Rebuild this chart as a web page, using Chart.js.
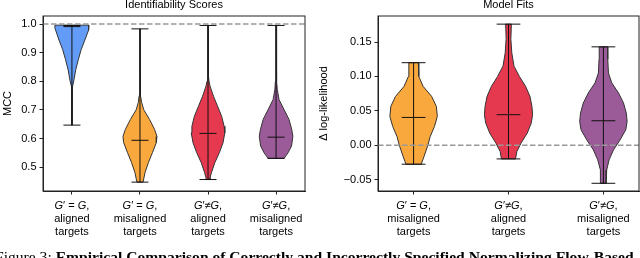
<!DOCTYPE html>
<html>
<head>
<meta charset="utf-8">
<script src="https://cdn.jsdelivr.net/npm/chart.js@4.4.0/dist/chart.umd.min.js"></script>
<style>
    html, body { margin: 0; padding: 0; background: #fff; width: 640px; height: 258px; overflow: hidden; }
    #idChart { position: absolute; left: 0; top: 0; width: 316px; height: 258px; }
    #fitChart { position: absolute; left: 316px; top: 0; width: 324px; height: 258px; }
    #caption {
        position: absolute; left: -5px; top: 249px;
        font-family: "Liberation Serif", "Times New Roman", serif;
        font-size: 15.6px; line-height: 15.6px; white-space: nowrap; color: #000;
    }
</style>
</head>
<body>
<canvas id="idChart" width="316" height="258"></canvas>
<canvas id="fitChart" width="324" height="258"></canvas>
<div id="caption">Figure 3: <b>Empirical Comparison of Correctly and Incorrectly Specified Normalizing Flow-Based</b></div>
<script>
// ---- Identifiability Scores (left panel) ----
const idTitle = 'Identifiability Scores';
const idAxisTitle = 'MCC';
const idPositions = [1, 2, 3, 4];
const idLabels = [
    ['G′ = G,', 'aligned', 'targets'],
    ['G′ = G,', 'misaligned', 'targets'],
    ['G′≠G,', 'aligned', 'targets'],
    ['G′≠G,', 'misaligned', 'targets']
];
const idMin = [0.647, 0.448, 0.457, 0.531];
const idMax = [0.995, 0.983, 0.995, 0.995];
const idMedian = [0.991, 0.594, 0.618, 0.605];
// violin outlines: [value, half width]
const idBlue = [[0.996, 0.25], [0.985, 0.25], [0.979, 0.24], [0.944, 0.19], [0.91, 0.135], [0.875, 0.093],
    [0.84, 0.056], [0.805, 0.03], [0.78, 0.008], [0.76, 0.004], [0.70, 0.003], [0.647, 0.003]];
const idOrange = [[0.983, 0.003], [0.90, 0.004], [0.80, 0.006], [0.75, 0.012], [0.726, 0.025], [0.701, 0.055],
    [0.667, 0.14], [0.632, 0.215], [0.607, 0.25], [0.586, 0.24], [0.552, 0.185], [0.517, 0.125],
    [0.482, 0.075], [0.448, 0.045]];
const idRed = [[0.995, 0.003], [0.90, 0.004], [0.82, 0.008], [0.80, 0.015], [0.783, 0.03], [0.748, 0.08],
    [0.713, 0.14], [0.678, 0.2], [0.643, 0.237], [0.62, 0.247], [0.585, 0.22], [0.551, 0.167],
    [0.516, 0.1], [0.481, 0.05], [0.463, 0.03], [0.457, 0.03]];
const idPurple = [[0.995, 0.003], [0.90, 0.005], [0.80, 0.01], [0.771, 0.018], [0.736, 0.044], [0.701, 0.118],
    [0.667, 0.19], [0.632, 0.23], [0.608, 0.247], [0.574, 0.227], [0.551, 0.178], [0.531, 0.118]];
const idTicks = [0.5, 0.6, 0.7, 0.8, 0.9, 1.0];
const idYRange = [0.417, 1.028];
const idXRange = [0.575, 4.425];
const idReference = 1.0;

// ---- Model Fits (right panel) ----
const fitTitle = 'Model Fits';
const fitAxisTitle = 'Δ log-likelihood';
const fitPositions = [1, 2, 3];
const fitLabels = [
    ['G′ = G,', 'misaligned', 'targets'],
    ['G′≠G,', 'aligned', 'targets'],
    ['G′≠G,', 'misaligned', 'targets']
];
const fitMin = [-0.0274, -0.0197, -0.0551];
const fitMax = [0.120, 0.176, 0.143];
const fitMedian = [0.0405, 0.0445, 0.0357];
const fitOrange = [[0.120, 0.05], [0.100, 0.055], [0.0857, 0.1], [0.0711, 0.19], [0.0566, 0.24], [0.042, 0.25],
    [0.0274, 0.22], [0.0128, 0.175], [0.0, 0.15], [-0.0163, 0.11], [-0.0274, 0.08]];
const fitRed = [[0.176, 0.03], [0.154, 0.025], [0.134, 0.035], [0.115, 0.058], [0.100, 0.115], [0.0857, 0.18],
    [0.0711, 0.226], [0.0566, 0.247], [0.0445, 0.254], [0.0324, 0.24], [0.0178, 0.198], [0.0032, 0.132],
    [-0.009, 0.088], [-0.0197, 0.074]];
const fitPurple = [[0.143, 0.044], [0.125, 0.046], [0.105, 0.053], [0.0907, 0.088], [0.0761, 0.159], [0.0615, 0.212],
    [0.0469, 0.241], [0.0347, 0.25], [0.0226, 0.236], [0.008, 0.176], [-0.0066, 0.106], [-0.0211, 0.06],
    [-0.0357, 0.035], [-0.0503, 0.028], [-0.0551, 0.028]];
const fitTicks = [-0.05, 0.0, 0.05, 0.10, 0.15];
const fitYRange = [-0.0663, 0.1878];
const fitXRange = [0.625, 3.375];
const fitReference = 0.0;

const BLUE = '#639cf6', ORANGE = '#f8a83c', RED = '#e5394f', PURPLE = '#9b5a98';
const FONT = '"Liberation Sans", Arial, sans-serif';
const AXIS = '#222';

// right side top->bottom, then left side bottom->top, closed
function violinOutline(center, profile) {
    const right = profile.map(p => ({ x: center + p[1], y: p[0] }));
    const left = profile.slice().reverse().map(p => ({ x: center - p[1], y: p[0] }));
    return right.concat(left, [right[0]]);
}

function buildDatasets(positions, mins, maxs, medians, violins, colors, xRange, refY) {
    const sets = [];
    const capHalf = 0.125;
    positions.forEach((pos, i) => {
        sets.push({
            data: violinOutline(pos, violins[i]),
            showLine: true, fill: 'shape', tension: 0,
            backgroundColor: colors[i], borderColor: '#333', borderWidth: 1,
            pointRadius: 0, order: 3
        });
        const segs = [
            [{ x: pos, y: mins[i] }, { x: pos, y: maxs[i] }],
            [{ x: pos - capHalf, y: mins[i] }, { x: pos + capHalf, y: mins[i] }],
            [{ x: pos - capHalf, y: maxs[i] }, { x: pos + capHalf, y: maxs[i] }],
            [{ x: pos - capHalf, y: medians[i] }, { x: pos + capHalf, y: medians[i] }]
        ];
        segs.forEach(d => sets.push({
            data: d, showLine: true, fill: false,
            borderColor: '#111', borderWidth: 1, pointRadius: 0, order: 2
        }));
    });
    // dashed reference line
    sets.push({
        data: [{ x: xRange[0], y: refY }, { x: xRange[1], y: refY }],
        showLine: true, fill: false, borderColor: '#999', borderWidth: 1.5,
        borderDash: [5.5, 2.5], pointRadius: 0, order: 1
    });
    return sets;
}

// frame, title and multi-line x labels (G in italics)
const panelDecor = {
    id: 'panelDecor',
    afterDraw(chart, args, opts) {
        const { ctx, chartArea: a, scales } = chart;
        ctx.save();
        ctx.strokeStyle = AXIS;
        ctx.lineWidth = 1;
        ctx.strokeRect(a.left, a.top, a.right - a.left, a.bottom - a.top);

        ctx.fillStyle = '#000';
        ctx.font = '11px ' + FONT;
        ctx.textAlign = 'center';
        ctx.textBaseline = 'alphabetic';
        ctx.fillText(opts.title, (a.left + a.right) / 2, 8);

        ctx.textBaseline = 'middle';
        opts.positions.forEach((pos, i) => {
            const x = scales.x.getPixelForValue(pos);
            const lines = opts.labels[i];
            // first line: math, italic G
            const parts = lines[0].split(/(G)/).filter(s => s.length);
            const fonts = parts.map(s => (s === 'G' ? 'italic 11px ' : '11px ') + FONT);
            let total = 0;
            parts.forEach((s, k) => { ctx.font = fonts[k]; total += ctx.measureText(s).width; });
            let cx = x - total / 2;
            ctx.textAlign = 'left';
            parts.forEach((s, k) => {
                ctx.font = fonts[k];
                ctx.fillText(s, cx, a.bottom + 15);
                cx += ctx.measureText(s).width;
            });
            ctx.textAlign = 'center';
            ctx.font = '11px ' + FONT;
            ctx.fillText(lines[1], x, a.bottom + 28);
            ctx.fillText(lines[2], x, a.bottom + 41);
        });
        ctx.restore();
    }
};

function makePanel(canvasId, cfg) {
    const canvas = document.getElementById(canvasId);
    return new Chart(canvas.getContext('2d'), {
        type: 'scatter',
        data: { datasets: cfg.datasets },
        options: {
            responsive: false,
            animation: false,
            layout: { padding: { left: 0, right: cfg.padRight, top: 16, bottom: 0 } },
            plugins: {
                legend: { display: false },
                tooltip: { enabled: false },
                panelDecor: { title: cfg.title, positions: cfg.positions, labels: cfg.labels }
            },
            scales: {
                x: {
                    type: 'linear', min: cfg.xRange[0], max: cfg.xRange[1],
                    afterBuildTicks: s => { s.ticks = cfg.positions.map(v => ({ value: v })); },
                    afterFit: s => { s.height = 67; },
                    ticks: { display: false },
                    grid: { drawOnChartArea: false, tickLength: 3.5, color: AXIS },
                    border: { color: AXIS, width: 1 }
                },
                y: {
                    type: 'linear', min: cfg.yRange[0], max: cfg.yRange[1],
                    afterBuildTicks: s => { s.ticks = cfg.ticks.map(v => ({ value: v })); },
                    afterFit: s => { s.width = cfg.yWidth; },
                    ticks: {
                        color: '#000', padding: 3,
                        font: { family: FONT, size: 11 },
                        callback: v => v.toFixed(cfg.digits).replace('-', '−')
                    },
                    grid: { drawOnChartArea: false, tickLength: 3.5, color: AXIS },
                    border: { color: AXIS, width: 1 },
                    title: {
                        display: true, text: cfg.axisTitle, color: '#000',
                        font: { family: FONT, size: 11 }, padding: { top: 1, bottom: 0 }
                    }
                }
            }
        },
        plugins: [panelDecor]
    });
}

makePanel('idChart', {
    datasets: buildDatasets(idPositions, idMin, idMax, idMedian,
        [idBlue, idOrange, idRed, idPurple], [BLUE, ORANGE, RED, PURPLE], idXRange, idReference),
    title: idTitle, axisTitle: idAxisTitle, positions: idPositions, labels: idLabels,
    ticks: idTicks, yRange: idYRange, xRange: idXRange, digits: 1, yWidth: 43, padRight: 11
});

makePanel('fitChart', {
    datasets: buildDatasets(fitPositions, fitMin, fitMax, fitMedian,
        [fitOrange, fitRed, fitPurple], [ORANGE, RED, PURPLE], fitXRange, fitReference),
    title: fitTitle, axisTitle: fitAxisTitle, positions: fitPositions, labels: fitLabels,
    ticks: fitTicks, yRange: fitYRange, xRange: fitXRange, digits: 2, yWidth: 62, padRight: 1
});
</script>
</body>
</html>
